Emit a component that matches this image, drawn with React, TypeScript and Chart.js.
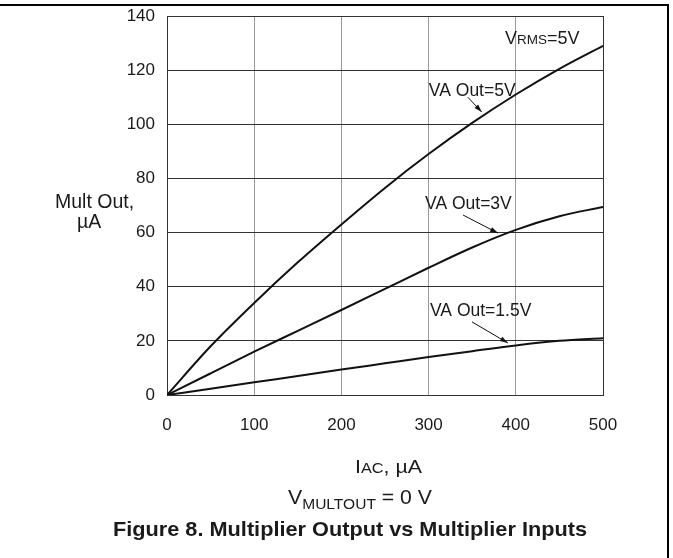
import React, { useEffect, useRef } from "react";
import { Chart, registerables } from "chart.js";

Chart.register(...registerables);

const iacValues = [0, 50, 100, 150, 200, 250, 300, 350, 400, 450, 500];
const multOut5V = [0, 18, 34, 49, 63, 76.5, 89, 100.5, 111, 120.5, 129];
const multOut3V = [0, 8, 16, 23.7, 31.4, 39.2, 47, 54.5, 61, 66, 69.5];
const multOut15V = [0, 2.3, 4.7, 7, 9.4, 11.7, 14, 16.2, 18.3, 20, 21];
const xTicks = [0, 100, 200, 300, 400, 500];
const yTicks = [0, 20, 40, 60, 80, 100, 120, 140];

const FONT = '"Liberation Sans", Arial, Helvetica, sans-serif';

type Run = { t: string; size: number; dy?: number; bold?: boolean };

function drawRuns(
  ctx: CanvasRenderingContext2D,
  x: number,
  y: number,
  runs: Run[],
  align: "left" | "center" = "left",
  targetWidth?: number
) {
  ctx.save();
  ctx.textBaseline = "alphabetic";
  ctx.textAlign = "left";
  let total = 0;
  const widths = runs.map((r) => {
    ctx.font = `${r.bold ? "bold " : ""}${r.size}px ${FONT}`;
    const w = ctx.measureText(r.t).width;
    total += w;
    return w;
  });
  const sx = targetWidth ? targetWidth / total : 1;
  const drawnW = total * sx;
  const startX = align === "center" ? x - drawnW / 2 : x;
  ctx.translate(startX, y);
  ctx.scale(sx, 1);
  let cx = 0;
  runs.forEach((r, i) => {
    ctx.font = `${r.bold ? "bold " : ""}${r.size}px ${FONT}`;
    ctx.fillText(r.t, cx, r.dy || 0);
    cx += widths[i];
  });
  ctx.restore();
}

function arrow(ctx: CanvasRenderingContext2D, x1: number, y1: number, x2: number, y2: number) {
  ctx.save();
  ctx.strokeStyle = "#111";
  ctx.fillStyle = "#111";
  ctx.lineWidth = 1;
  ctx.beginPath();
  ctx.moveTo(x1, y1);
  ctx.lineTo(x2, y2);
  ctx.stroke();
  const ang = Math.atan2(y2 - y1, x2 - x1);
  const L = 8;
  const W = 2.5;
  ctx.beginPath();
  ctx.moveTo(x2, y2);
  ctx.lineTo(x2 - L * Math.cos(ang) + W * Math.sin(ang), y2 - L * Math.sin(ang) - W * Math.cos(ang));
  ctx.lineTo(x2 - L * Math.cos(ang) - W * Math.sin(ang), y2 - L * Math.sin(ang) + W * Math.cos(ang));
  ctx.closePath();
  ctx.fill();
  ctx.restore();
}

const decorPlugin = {
  id: "decor",
  afterDraw(chart: any) {
    const ctx: CanvasRenderingContext2D = chart.ctx;
    const xs = chart.scales.x;
    const ys = chart.scales.y;
    const px = (v: number) => xs.getPixelForValue(v);
    const py = (v: number) => ys.getPixelForValue(v);
    ctx.save();
    ctx.fillStyle = "#1a1a1a";

    // outer frame (top and right)
    ctx.strokeStyle = "#000";
    ctx.lineWidth = 2;
    ctx.beginPath();
    ctx.moveTo(0, 5);
    ctx.lineTo(668, 5);
    ctx.lineTo(668, 558);
    ctx.stroke();

    // curve labels
    drawRuns(ctx, px(387.6), py(129.5), [
      { t: "V", size: 18 },
      { t: "RMS", size: 13.5 },
      { t: "=5V", size: 18 },
    ]);
    drawRuns(ctx, px(300.3), py(110.5), [{ t: "VA Out=5V", size: 17.5 }]);
    drawRuns(ctx, px(295.9), py(68.6), [{ t: "VA Out=3V", size: 17.5 }]);
    drawRuns(ctx, px(301.6), py(29.2), [{ t: "VA Out=1.5V", size: 17.5 }]);

    arrow(ctx, px(345), py(110), px(361), py(104.5));
    arrow(ctx, px(339.4), py(66.5), px(379.6), py(59.8));
    arrow(ctx, px(349.8), py(27), px(391), py(19.2));

    // y axis title
    drawRuns(ctx, 55, 207.5, [{ t: "Mult Out,", size: 19.5 }]);
    drawRuns(ctx, 77, 228, [{ t: "\u00b5A", size: 19.5 }]);

    // x axis title
    drawRuns(
      ctx,
      355,
      472.5,
      [
        { t: "I", size: 19 },
        { t: "AC", size: 14.5 },
        { t: ", \u00b5A", size: 19 },
      ],
      "left",
      67
    );
    drawRuns(
      ctx,
      288,
      504,
      [
        { t: "V", size: 20.5 },
        { t: "MULTOUT", size: 15, dy: 4.5 },
        { t: " = 0 V", size: 20.5 },
      ],
      "left",
      144
    );

    // figure caption
    drawRuns(
      ctx,
      350,
      536,
      [{ t: "Figure 8. Multiplier Output vs Multiplier Inputs", size: 20.5, bold: true }],
      "center",
      474
    );
    ctx.restore();
  },
};

export default function App() {
  const ref = useRef<HTMLCanvasElement | null>(null);

  useEffect(() => {
    if (!ref.current) return;
    const mk = (vals: number[]) => iacValues.map((x, i) => ({ x, y: vals[i] }));
    const ds = (label: string, vals: number[]) => ({
      label,
      data: mk(vals),
      showLine: true,
      borderColor: "#111",
      backgroundColor: "#111",
      borderWidth: 2,
      pointRadius: 0,
      cubicInterpolationMode: "monotone" as const,
      fill: false,
    });
    const chart = new Chart(ref.current, {
      type: "scatter",
      data: {
        datasets: [ds("VA Out=5V", multOut5V), ds("VA Out=3V", multOut3V), ds("VA Out=1.5V", multOut15V)],
      },
      options: {
        responsive: false,
        animation: false,
        events: [],
        layout: { padding: { left: 0, top: 16, right: 70, bottom: 0 } },
        plugins: { legend: { display: false }, tooltip: { enabled: false }, title: { display: false } },
        scales: {
          x: {
            type: "linear",
            min: 0,
            max: 500,
            afterFit: (s: any) => {
              s.height = 163;
            },
            afterBuildTicks: (s: any) => {
              s.ticks = xTicks.map((v) => ({ value: v }));
            },
            grid: {
              drawTicks: false,
              color: (c: any) => (c.tick && c.tick.value === 500 ? "#333" : "#9a9a9a"),
              lineWidth: 1,
            },
            border: { display: true, color: "#333", width: 1 },
            ticks: {
              padding: 20,
              color: "#1a1a1a",
              font: { family: FONT, size: 17 },
            },
          },
          y: {
            type: "linear",
            min: 0,
            max: 140,
            afterFit: (s: any) => {
              s.width = 167;
              s.paddingTop = 0;
              s.paddingBottom = 0;
            },
            afterBuildTicks: (s: any) => {
              s.ticks = yTicks.map((v) => ({ value: v }));
            },
            grid: {
              drawTicks: false,
              color: "#333",
              lineWidth: 1,
            },
            border: { display: true, color: "#333", width: 1 },
            ticks: {
              padding: 12,
              color: "#1a1a1a",
              font: { family: FONT, size: 17 },
            },
          },
        },
      },
      plugins: [decorPlugin],
    });
    return () => chart.destroy();
  }, []);

  return (
    <div style={{ position: "absolute", left: 0, top: 0, width: 673, height: 558, background: "#fff" }}>
      <canvas ref={ref} width={673} height={558} style={{ display: "block" }} />
    </div>
  );
}
